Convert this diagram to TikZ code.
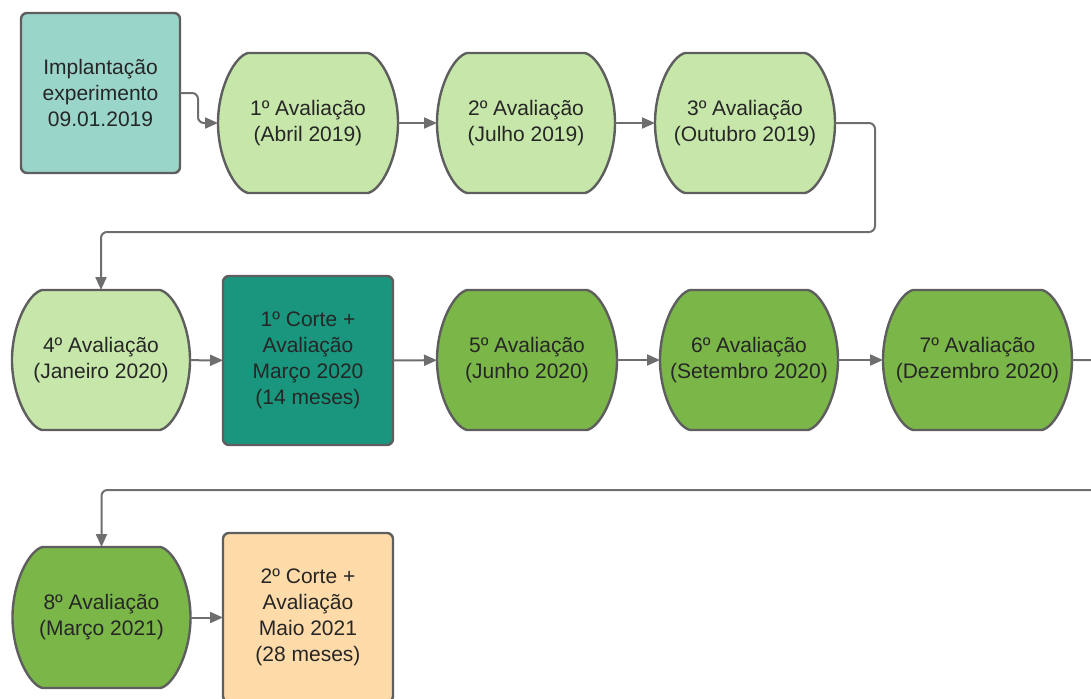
\documentclass[tikz,border=0pt]{standalone}
\usepackage{fontspec}
\setmainfont{Liberation Sans}
\usetikzlibrary{arrows.meta, backgrounds, calc}
\definecolor{clrline}{HTML}{6E6E6E}
\definecolor{clrborder}{HTML}{5E5E5E}
\definecolor{clrstart}{HTML}{9AD5CA}
\definecolor{clrlight}{HTML}{C6E7A9}
\definecolor{clrdark}{HTML}{7AB648}
\definecolor{clrcut}{HTML}{19967D}
\definecolor{clrcuttwo}{HTML}{FFDBA9}

% curved-side outline drawn behind an evaluation node
\newcommand{\avalshape}[2]{%
    \begin{pgfonlayer}{background}
        \draw[shape line, fill=#2]
            ($(#1.north west)+(30,0)$) -- ($(#1.north east)+(-30,0)$)
            .. controls ($(#1.north east)+(-17,3)$) and ($(#1.east)+(0,-36)$) .. (#1.east)
            .. controls ($(#1.east)+(0,36)$) and ($(#1.south east)+(-17,-3)$) .. ($(#1.south east)+(-30,0)$)
            -- ($(#1.south west)+(30,0)$)
            .. controls ($(#1.south west)+(17,-3)$) and ($(#1.west)+(0,36)$) .. (#1.west)
            .. controls ($(#1.west)+(0,-36)$) and ($(#1.north west)+(17,3)$) .. cycle;
    \end{pgfonlayer}
}

\begin{document}
\begin{tikzpicture}[
            x=0.5pt, y=-0.5pt,
            shape line/.style={draw=clrborder, line width=1.2pt},
            aval/.style={rectangle, minimum width=89pt, minimum height=70pt, inner sep=0pt, outer sep=0pt,
                align=center, text=black!85, font=\fontsize{10.5}{13}\selectfont},
            stage box/.style={shape line, rectangle, rounded corners=3pt, minimum width=85pt, minimum height=84.5pt,
                inner sep=0pt, outer sep=0pt, align=center, text=black!85, font=\fontsize{10.5}{13}\selectfont},
            flow line/.style={draw=clrline, line width=1pt, rounded corners=3pt,
                -{Triangle[length=6.5pt, width=5.5pt]}},
        ]

        \useasboundingbox (0,0) rectangle (1091,698);
        \clip (0,0) rectangle (1091,698);

        % First row
        \node[stage box, fill=clrstart, minimum width=79.5pt, minimum height=80pt] (impl) at (100.5,93)
            {Implantação\\experimento\\09.01.2019};
        \node[aval, minimum width=90pt] (av1) at (308,123) {1º Avaliação\\(Abril 2019)};
        \node[aval] (av2) at (526,123) {2º Avaliação\\(Julho 2019)};
        \node[aval, minimum width=90pt] (av3) at (745,123) {3º Avaliação\\(Outubro 2019)};
        \avalshape{av1}{clrlight}
        \avalshape{av2}{clrlight}
        \avalshape{av3}{clrlight}

        % Second row
        \node[aval] (av4) at (101,360) {4º Avaliação\\(Janeiro 2020)};
        \node[stage box, fill=clrcut] (corte1) at (308,360.5)
            {1º Corte +\\Avaliação\\Março 2020\\(14 meses)};
        \node[aval, minimum width=90pt] (av5) at (527,360) {5º Avaliação\\(Junho 2020)};
        \node[aval] (av6) at (749,360) {6º Avaliação\\(Setembro 2020)};
        \node[aval, minimum width=94.5pt] (av7) at (977.5,360) {7º Avaliação\\(Dezembro 2020)};
        \avalshape{av4}{clrlight}
        \avalshape{av5}{clrdark}
        \avalshape{av6}{clrdark}
        \avalshape{av7}{clrdark}

        % Third row
        \node[aval, minimum height=70.5pt] (av8) at (101.5,617.5) {8º Avaliação\\(Março 2021)};
        \node[stage box, fill=clrcuttwo] (corte2) at (308,617.5)
            {2º Corte +\\Avaliação\\Maio 2021\\(28 meses)};
        \avalshape{av8}{clrdark}

        % Turning points
        \coordinate (turn1) at (875,232);
        \coordinate (turn2) at (1110,490);

        % Connectors
        \draw[flow line] (impl.east) -- ++(18,0) |- (av1.west);
        \draw[flow line] (av1) -- (av2);
        \draw[flow line] (av2) -- (av3);
        \draw[flow line] (av3.east) -| (turn1) -| (av4.north);
        \draw[flow line] (av4) -- (corte1);
        \draw[flow line] (corte1) -- (av5);
        \draw[flow line] (av5) -- (av6);
        \draw[flow line] (av6) -- (av7);
        \draw[flow line] (av7.east) -| (turn2) -| (av8.north);
        \draw[flow line] (av8) -- (corte2);

        \end{tikzpicture}
\end{document}
